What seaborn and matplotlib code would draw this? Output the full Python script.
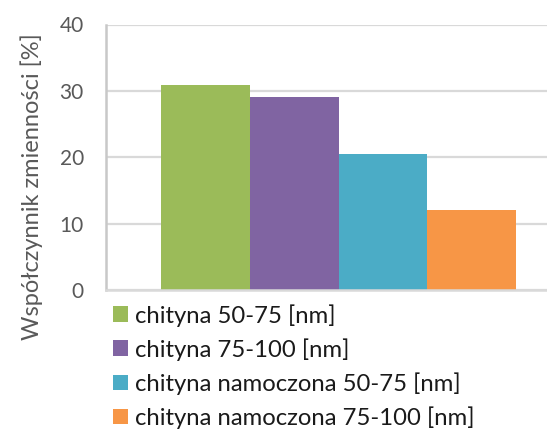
import matplotlib
matplotlib.use("Agg")
import matplotlib.pyplot as plt
import seaborn as sns
import pandas as pd
from matplotlib.patches import Patch

# Coefficient of variation per sample series
series = [
    "chityna 50-75 [nm]",
    "chityna 75-100 [nm]",
    "chityna namoczona 50-75 [nm]",
    "chityna namoczona 75-100 [nm]",
]
values = [30.9, 29.1, 20.5, 12.0]
colors = ["#9BBB59", "#8064A2", "#4BACC6", "#F79646"]
yticks = [0, 10, 20, 30, 40]
ylabel = "Współczynnik zmienności [%]"

df = pd.DataFrame({"grupa": [""] * len(series), "seria": series, "wartosc": values})

sns.set_theme(style="white")
plt.rcParams["font.family"] = ["Lato", "DejaVu Sans"]

fig = plt.figure(figsize=(5.47, 4.30), dpi=100)
W, H = 547, 430
left, right, top, bottom = 106, 571, 24.5, 290
ax = fig.add_axes([left / W, (H - bottom) / H, (right - left) / W, (bottom - top) / H])

sns.barplot(data=df, x="grupa", y="wartosc", hue="seria", palette=colors,
            width=0.763, saturation=1, legend=False, ax=ax, linewidth=0)

ax.set_ylim(0, 40)
ax.set_xlim(-0.5, 0.5)
ax.set_yticks(yticks)
ax.set_yticklabels([str(t) for t in yticks])
ax.set_xticks([])
ax.set_xlabel("")
ax.set_ylabel(ylabel, fontsize=17, color="#595959")
ax.yaxis.set_label_coords(-0.135, 0.39)
ax.tick_params(axis="y", length=0, pad=16, labelsize=15, labelcolor="#595959")

ax.grid(axis="y", color="#D9D9D9", linewidth=1.6)
ax.set_axisbelow(True)
for side in ["top", "right"]:
    ax.spines[side].set_visible(False)
ax.spines["left"].set_color("#C8C8C8")
ax.spines["left"].set_linewidth(1.8)
ax.spines["bottom"].set_color("#D9D9D9")
ax.spines["bottom"].set_linewidth(1.8)

handles = [Patch(facecolor=c, edgecolor="none") for c in colors]
fig.legend(handles, series, loc="upper left", bbox_to_anchor=(113 / W, 1 - 304 / H),
           frameon=False, fontsize=17.2, handlelength=0.63, handleheight=0.63,
           handletextpad=0.3, labelspacing=0.48, borderaxespad=0, borderpad=0,
           labelcolor="#1A1A1A")

fig.savefig("out.png", dpi=100)
